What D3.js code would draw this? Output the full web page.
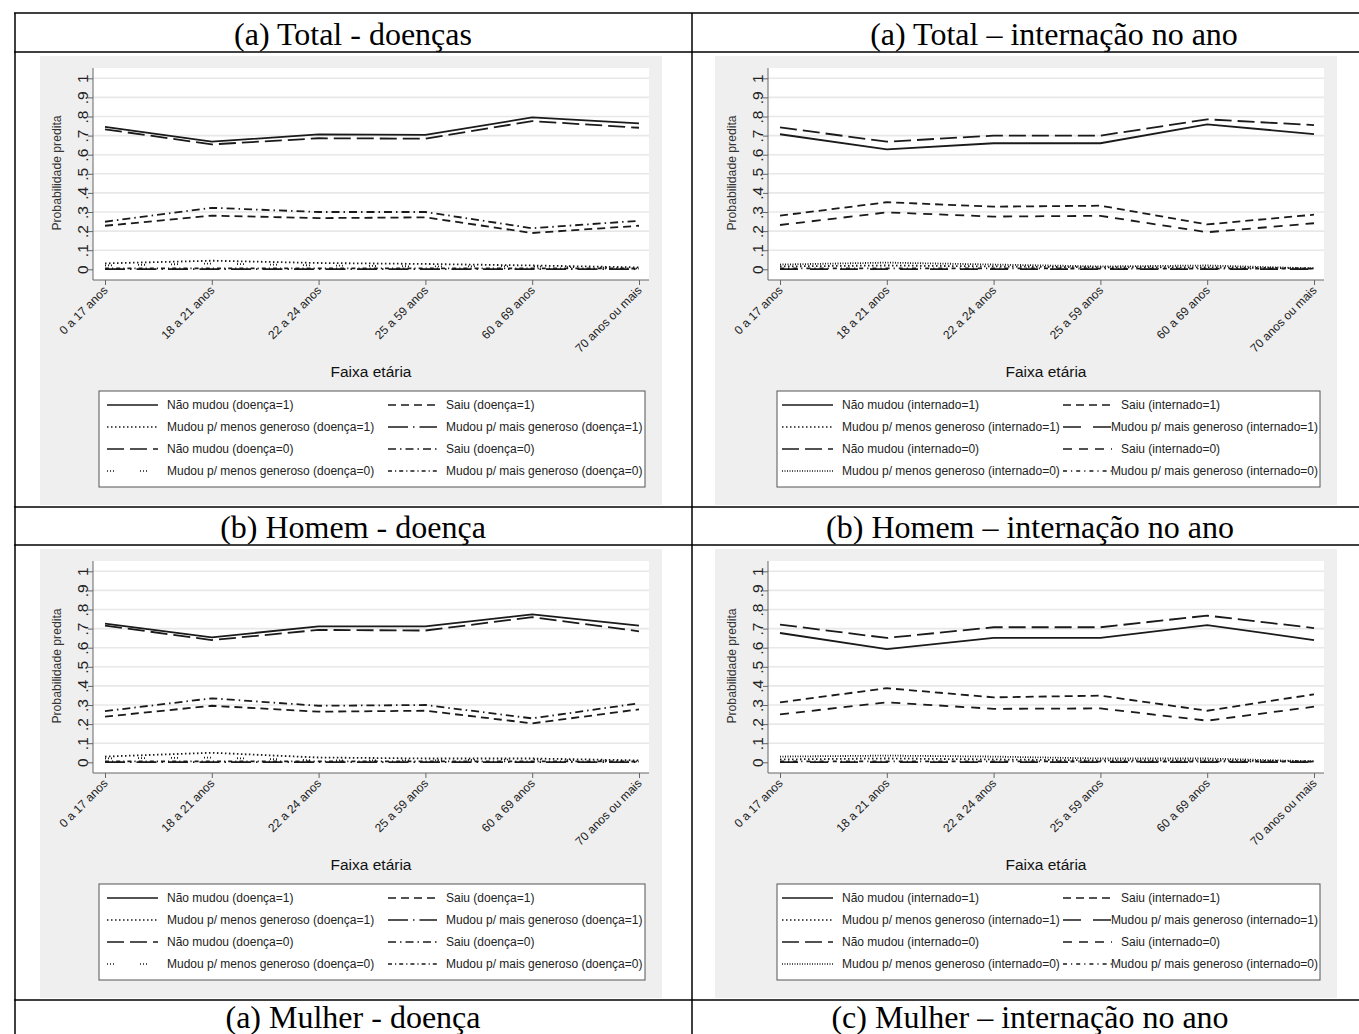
<!DOCTYPE html>
<html><head><meta charset="utf-8">
<script src="https://cdn.jsdelivr.net/npm/d3@7"></script>
<style>body{margin:0;background:#fff}svg{display:block}</style>
</head><body>
<script>
// ---------- DATA ----------
const ageGroups = ["0 a 17 anos","18 a 21 anos","22 a 24 anos","25 a 59 anos","60 a 69 anos","70 anos ou mais"];
const yTicks = [0,0.1,0.2,0.3,0.4,0.5,0.6,0.7,0.8,0.9,1];
const yTickLabels = ["0",".1",".2",".3",".4",".5",".6",".7",".8",".9","1"];
const seriesBase = ["Não mudou","Saiu","Mudou p/ menos generoso","Mudou p/ mais generoso",
                    "Não mudou","Saiu","Mudou p/ menos generoso","Mudou p/ mais generoso"];
const seriesFlag = [1,1,1,1,0,0,0,0];
const headers = ["(a) Total - doenças","(a) Total – internação no ano",
                 "(b) Homem - doença","(b) Homem – internação no ano",
                 "(a) Mulher - doença","(c) Mulher – internação no ano"];
const panelVar = ["doença","internado","doença","internado"];

// series order: naoMudou1, saiu1, menos1, mais1, naoMudou0, saiu0, menos0, mais0
const totalDoenca = [
  [0.746,0.668,0.706,0.704,0.795,0.764],
  [0.228,0.281,0.268,0.272,0.190,0.228],
  [0.031,0.045,0.033,0.028,0.020,0.010],
  [0.001,0.001,0.001,0.001,0.001,0.001],
  [0.733,0.654,0.686,0.684,0.776,0.741],
  [0.249,0.322,0.300,0.300,0.215,0.254],
  [0.020,0.030,0.020,0.015,0.015,0.005],
  [0.005,0.005,0.005,0.005,0.005,0.004]
];
const totalInternacao = [
  [0.707,0.628,0.660,0.660,0.759,0.708],
  [0.281,0.351,0.328,0.333,0.235,0.286],
  [0.015,0.020,0.015,0.010,0.010,0.005],
  [0.001,0.001,0.001,0.001,0.001,0.001],
  [0.743,0.668,0.700,0.700,0.785,0.755],
  [0.232,0.298,0.276,0.280,0.194,0.241],
  [0.025,0.035,0.025,0.015,0.020,0.005],
  [0.005,0.005,0.005,0.004,0.004,0.003]
];
const homemDoenca = [
  [0.726,0.654,0.712,0.712,0.774,0.716],
  [0.239,0.296,0.265,0.270,0.204,0.277],
  [0.030,0.050,0.025,0.020,0.020,0.010],
  [0.001,0.001,0.001,0.001,0.001,0.001],
  [0.716,0.640,0.693,0.690,0.760,0.686],
  [0.268,0.335,0.296,0.300,0.230,0.309],
  [0.020,0.025,0.010,0.010,0.015,0.005],
  [0.005,0.005,0.005,0.005,0.005,0.004]
];
const homemInternacao = [
  [0.677,0.593,0.651,0.651,0.718,0.640],
  [0.314,0.388,0.340,0.349,0.270,0.356],
  [0.015,0.020,0.015,0.010,0.010,0.005],
  [0.001,0.001,0.001,0.001,0.001,0.001],
  [0.721,0.651,0.707,0.707,0.768,0.703],
  [0.251,0.314,0.280,0.282,0.218,0.291],
  [0.030,0.035,0.030,0.020,0.020,0.005],
  [0.005,0.005,0.005,0.004,0.004,0.003]
];
const panelsData = [totalDoenca,totalInternacao,homemDoenca,homemInternacao];

const dashLeft  = [null,"8,5","1.5,2.5","20,5,1.5,5","17,6","8,4,1.5,4","1,2,1,2,1,26","4,3,1.2,3"];
const dashRight = [null,"8,5","1.5,2.5","18,12","17,6","9,7","1,1.5","4,4,1.2,4"];

// ---------- DRAW ----------
const W=1359,H=1034;
const svg=d3.select("body").append("svg").attr("width",W).attr("height",H);
const ink="#1a1a1a";
const sans="Arial, 'Liberation Sans', sans-serif";
const serif="'Liberation Serif','Times New Roman',serif";

// table lines
const tl=svg.append("g").attr("stroke","#000").attr("stroke-width",1.5);
[13,52,507,545,1000].forEach(y=>tl.append("line").attr("x1",14).attr("x2",W).attr("y1",y).attr("y2",y));
[15,692].forEach(x=>tl.append("line").attr("x1",x).attr("x2",x).attr("y1",13).attr("y2",H));

// headers
const hdrPos=[[353,45],[1054,45],[353,538],[1030,538],[353,1028],[1030,1028]];
headers.forEach((t,i)=>svg.append("text").attr("x",hdrPos[i][0]).attr("y",hdrPos[i][1])
  .attr("text-anchor","middle").attr("font-family",serif).attr("font-size",32).attr("fill","#000").text(t));

function panel(idx){
  const dx=(idx%2)*675, dy=Math.floor(idx/2)*493;
  const g=svg.append("g").attr("transform",`translate(${dx},${dy})`);
  const data=panelsData[idx];
  const dashes= idx%2===0?dashLeft:dashRight;
  g.append("rect").attr("x",40).attr("y",56).attr("width",622).attr("height",449).attr("fill","#efefef");
  g.append("rect").attr("x",93).attr("y",68).attr("width",556).attr("height",212).attr("fill","#fff");
  const x=d3.scalePoint().domain(ageGroups).range([105,639]);
  const y=d3.scaleLinear().domain([0,1]).range([269.3,78.3]);
  // grid
  g.append("g").selectAll("line").data(yTicks.filter(v=>v>0)).join("line")
    .attr("x1",93).attr("x2",649).attr("y1",d=>y(d)).attr("y2",d=>y(d))
    .attr("stroke","#e8e8e8").attr("stroke-width",1.6);
  // y axis
  const ya=g.append("g").attr("transform","translate(93,0)")
    .call(d3.axisLeft(y).tickValues(yTicks).tickSize(5).tickFormat((d,i)=>yTickLabels[i]));
  ya.select(".domain").attr("d","M0,68V280").attr("stroke","#666");
  ya.selectAll(".tick line").attr("stroke","#666");
  ya.selectAll(".tick text").attr("font-family",sans).attr("font-size",15.5).attr("fill","#222")
    .attr("x",null).attr("dy",null).attr("text-anchor","middle")
    .attr("transform","translate(-5,0) rotate(-90)");
  // x axis
  const xa=g.append("g").attr("transform","translate(0,280)")
    .call(d3.axisBottom(x).tickSize(5).tickSizeOuter(0));
  xa.select(".domain").attr("d","M93,0H649").attr("stroke","#666");
  xa.selectAll(".tick line").attr("stroke","#666");
  xa.selectAll(".tick text").attr("font-family",sans).attr("font-size",12).attr("fill","#222")
    .attr("y",null).attr("dy",null).attr("text-anchor","end")
    .attr("transform","translate(3,11) rotate(-45)");
  // titles
  g.append("text").attr("transform","translate(61,173) rotate(-90)").attr("text-anchor","middle")
    .attr("font-family",sans).attr("font-size",12.2).attr("fill","#333").text("Probabilidade predita");
  g.append("text").attr("x",371).attr("y",377).attr("text-anchor","middle")
    .attr("font-family",sans).attr("font-size",15.5).attr("fill","#111").text("Faixa etária");
  // lines
  const line=d3.line().x((d,i)=>x(ageGroups[i])).y(d=>y(d));
  const order=[7,6,3,2,5,1,4,0];
  order.forEach(s=>{
    g.append("path").datum(data[s]).attr("d",line).attr("fill","none")
      .attr("stroke",ink).attr("stroke-width",1.8)
      .attr("stroke-dasharray",dashes[s]);
  });
  // legend
  const lx=idx%2===0?99:102;
  g.append("rect").attr("x",lx).attr("y",391).attr("width",645-lx).attr("height",96)
    .attr("fill","#fff").attr("stroke","#555").attr("stroke-width",1);
  for(let s=0;s<8;s++){
    const row=Math.floor(s/2), col=s%2;
    const cy=405+row*22;
    const x0=col===0?107:388, x1=col===0?158:437, tx=col===0?167:446;
    g.append("line").attr("x1",x0).attr("x2",x1).attr("y1",cy).attr("y2",cy)
      .attr("stroke",ink).attr("stroke-width",1.4).attr("stroke-dasharray",dashes[s]);
    const t=g.append("text").attr("x",tx).attr("y",cy+4).attr("font-family",sans).attr("font-size",12)
      .attr("fill","#222").text(`${seriesBase[s]} (${panelVar[idx]}=${seriesFlag[s]})`);
    if(col===1){
      const w=t.node().getComputedTextLength();
      if(tx+w>643) t.attr("x",643-w);
    }
  }
}
for(let i=0;i<4;i++) panel(i);
</script>
</body></html>
